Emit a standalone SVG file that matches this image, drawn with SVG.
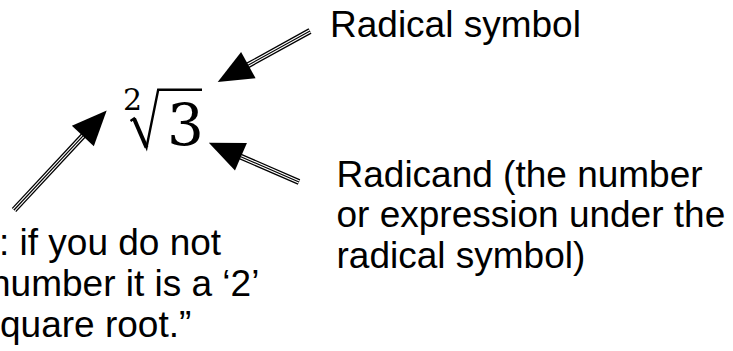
<svg xmlns="http://www.w3.org/2000/svg" width="733" height="351" viewBox="0 0 733 351">
<style>
.lbl{font-family:"Liberation Sans",Arial,sans-serif;font-size:37px;fill:#000}
.math{font-family:"DejaVu Serif","Liberation Serif",serif;fill:#000}
.s1{stroke:#000;stroke-width:6;fill:none}
.s2{stroke:#fff;stroke-width:3.4;fill:none}
.s3{stroke:#000;stroke-width:1.2;fill:none;marker-end:url(#head)}
</style>
<defs>
<marker id="head" markerUnits="userSpaceOnUse" markerWidth="40" markerHeight="34" viewBox="0 -17 40 34" refX="2" refY="0" orient="auto" overflow="visible">
<path d="M0,-15 L35,0 L0,15 Z" fill="#000"/>
</marker>
</defs>
<rect width="733" height="351" fill="#fff"/>
<g id="expression">
<text class="math" x="123" y="109.5" font-size="30">2</text>
<path d="M130.5,121 L134,118.5 L146.5,147.5 L158.2,89.8 L202,89.8" fill="none" stroke="#000" stroke-width="2.4" stroke-linejoin="miter"/>
<path d="M134,118.5 L146.5,147.5" fill="none" stroke="#000" stroke-width="4"/>
<text class="math" x="167" y="145" font-size="58">3</text>
</g>
<g id="label-radical">
<text class="lbl" x="330" y="37.3">Radical symbol</text>
</g>
<g id="label-radicand">
<text class="lbl" x="336.5" y="186.7">Radicand (the number</text>
<text class="lbl" x="336.5" y="227.3">or expression under the</text>
<text class="lbl" x="336.5" y="268.3">radical symbol)</text>
</g>
<g id="label-index">
<text class="lbl" x="-1" y="255">: if you do not</text>
<text class="lbl" x="-10" y="296">number it is a ‘2’</text>
<text class="lbl" x="0" y="336.7">quare root.”</text>
</g>
<g id="connectors">
<g id="arrow-radical">
<line class="s1" x1="310" y1="31" x2="246.6" y2="66"/>
<line class="s2" x1="310" y1="31" x2="246.6" y2="66"/>
<line class="s3" x1="310" y1="31" x2="246.6" y2="66"/>
</g>
<g id="arrow-radicand">
<line class="s1" x1="299" y1="182" x2="239.1" y2="156"/>
<line class="s2" x1="299" y1="182" x2="239.1" y2="156"/>
<line class="s3" x1="299" y1="182" x2="239.1" y2="156"/>
</g>
<g id="arrow-index">
<line class="s1" x1="14" y1="210" x2="84.2" y2="134.6"/>
<line class="s2" x1="14" y1="210" x2="84.2" y2="134.6"/>
<line class="s3" x1="14" y1="210" x2="84.2" y2="134.6"/>
</g>
</g>
</svg>
